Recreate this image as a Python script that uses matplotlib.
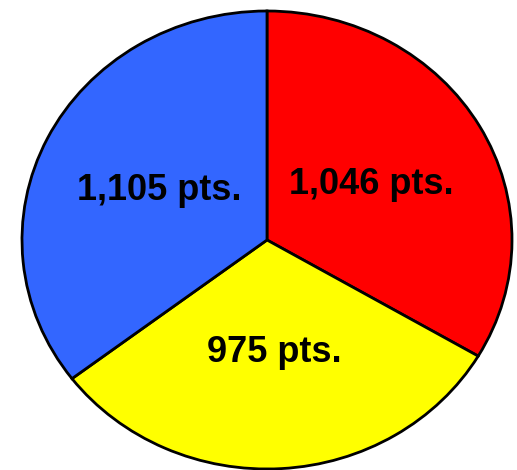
import matplotlib
matplotlib.use("Agg")
import matplotlib.pyplot as plt

# slice values, clockwise from top
points = [1046, 975, 1105]
labels = ["1,046 pts.", "975 pts.", "1,105 pts."]
colors = ["#FF0000", "#FFFF00", "#3366FF"]

fig = plt.figure(figsize=(5.17, 4.70), dpi=100)
ax = fig.add_axes([22 / 517, 1 / 470, 490 / 517, 458 / 470])

ax.pie(points, labels=labels, colors=colors, startangle=90, counterclock=False,
       labeldistance=0.49,
       wedgeprops=dict(edgecolor="black", linewidth=2.0),
       textprops=dict(fontsize=26, fontweight="bold", family="Liberation Sans",
                      ha="center", va="center", color="black"))

ax.set_aspect("auto")
ax.set_xlim(-1.0, 1.0)
ax.set_ylim(-1.0, 1.0)
ax.axis("off")

fig.savefig("out.png", dpi=100)
